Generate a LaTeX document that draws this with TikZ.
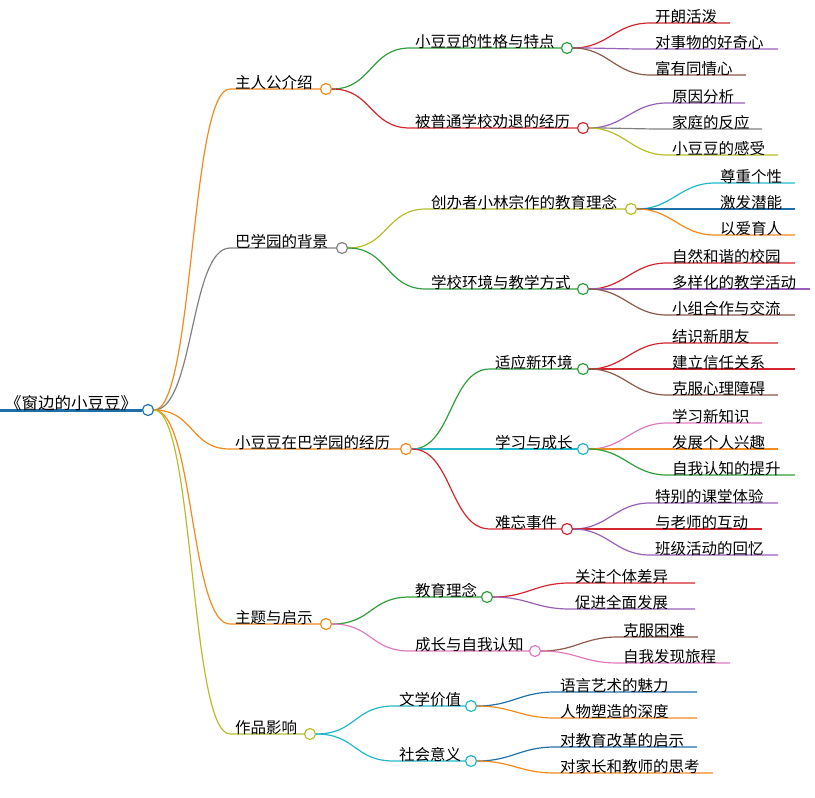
\documentclass[tikz,border=0pt]{standalone}
\usepackage{fontspec}
\newfontfamily\cjk{Noto Sans CJK SC}
\usetikzlibrary{calc}
\definecolor{cOr}{HTML}{F28A1E}
\definecolor{cGy}{HTML}{808080}
\definecolor{cYg}{HTML}{B5BD2A}
\definecolor{cGn}{HTML}{2E9E3A}
\definecolor{cRd}{HTML}{D4262E}
\definecolor{cPu}{HTML}{9A5FB8}
\definecolor{cBr}{HTML}{8C5A4A}
\definecolor{cCy}{HTML}{22B8CC}
\definecolor{cBl}{HTML}{1F6FA8}
\definecolor{cPk}{HTML}{E07AC0}
\tikzset{
	lbl/.style={font=\cjk\fontsize{15.5}{17}\selectfont,inner sep=1pt,anchor=south west},
	dot/.style={circle,fill=white,line width=1.2pt,inner sep=0pt,minimum size=11pt},
	wire/.style={line width=1.2pt},
}
% topic: name, parent, x0, x1, y, colour, text (ends with a dot)
\newcommand\topic[7]{%
	\coordinate (#1-s) at (#3,#5);
	\draw[wire,#6] (#2.east) .. controls +(40,0) and +(-40,0) .. (#1-s) -- (#4-5.5,#5);
	\node[dot,draw=#6] (#1) at (#4,#5) {};
	\node[lbl] (#1-t) at ($(#1-s)+(4,2)$) {#7};
}
% leaf: name, parent, x0, x1, y, colour, text
\newcommand\leaf[7]{%
	\coordinate (#1-s) at (#3,#5);
	\draw[wire,#6] (#2.east) .. controls +(35,0) and +(-35,0) .. (#1-s) -- (#4,#5);
	\node[lbl] (#1-t) at ($(#1-s)+(4,2)$) {#7};
}
\begin{document}
\begin{tikzpicture}[x=1pt,y=-1pt]
	\useasboundingbox (0,0) rectangle (815,798);
	% root
	\draw[cBl,line width=3pt] (0,410) -- (142,410);
	\node[dot,draw=cBl] (root) at (148,410) {};
	\node[lbl,font=\cjk\fontsize{16.5}{18}\selectfont] (root-t) at (4,412) {《窗边的小豆豆》};
	% main topics
	\topic{hero}{root}{230}{326}{89}{cOr}{主人公介绍}
	\topic{back}{root}{230}{342}{248}{cGy}{巴学园的背景}
	\topic{life}{root}{230}{406}{449}{cOr}{小豆豆在巴学园的经历}
	\topic{idea}{root}{230}{326}{624}{cOr}{主题与启示}
	\topic{echo}{root}{230}{310}{734}{cYg}{作品影响}
	% second level
	\topic{trait}{hero}{410}{567}{48}{cGn}{小豆豆的性格与特点}
	\topic{quit}{hero}{410}{583}{128}{cRd}{被普通学校劝退的经历}
	\topic{found}{back}{426}{631}{209}{cYg}{创办者小林宗作的教育理念}
	\topic{env}{back}{426}{583}{289}{cGn}{学校环境与教学方式}
	\topic{adapt}{life}{490}{583}{369}{cGn}{适应新环境}
	\topic{grow}{life}{490}{583}{449}{cCy}{学习与成长}
	\topic{event}{life}{490}{567}{529}{cRd}{难忘事件}
	\topic{edu}{idea}{410}{487}{597}{cGn}{教育理念}
	\topic{self}{idea}{410}{535}{651}{cPk}{成长与自我认知}
	\topic{lit}{echo}{394}{471}{706}{cCy}{文学价值}
	\topic{soc}{echo}{394}{471}{761}{cCy}{社会意义}
	% leaves
	\leaf{l1}{trait}{650}{730}{23}{cRd}{开朗活泼}
	\leaf{l2}{trait}{650}{778}{49}{cPu}{对事物的好奇心}
	\leaf{l3}{trait}{650}{746}{75}{cBr}{富有同情心}
	\leaf{l4}{quit}{667}{745}{103}{cPu}{原因分析}
	\leaf{l5}{quit}{667}{762}{129}{cGy}{家庭的反应}
	\leaf{l6}{quit}{667}{778}{155}{cYg}{小豆豆的感受}
	\leaf{l7}{found}{715}{795}{183}{cCy}{尊重个性}
	\leaf{l8}{found}{715}{795}{209}{cBl}{激发潜能}
	\leaf{l9}{found}{715}{795}{235}{cOr}{以爱育人}
	\leaf{l10}{env}{667}{795}{263}{cRd}{自然和谐的校园}
	\leaf{l11}{env}{667}{810}{289}{cPu}{多样化的教学活动}
	\leaf{l12}{env}{667}{795}{315}{cBr}{小组合作与交流}
	\leaf{l13}{adapt}{667}{778}{343}{cRd}{结识新朋友}
	\leaf{l14}{adapt}{667}{795}{369}{cRd}{建立信任关系}
	\leaf{l15}{adapt}{667}{778}{395}{cBr}{克服心理障碍}
	\leaf{l16}{grow}{667}{762}{423}{cPk}{学习新知识}
	\leaf{l17}{grow}{667}{778}{449}{cOr}{发展个人兴趣}
	\leaf{l18}{grow}{667}{795}{475}{cGn}{自我认知的提升}
	\leaf{l19}{event}{650}{778}{503}{cPu}{特别的课堂体验}
	\leaf{l20}{event}{650}{762}{529}{cRd}{与老师的互动}
	\leaf{l21}{event}{650}{778}{555}{cPu}{班级活动的回忆}
	\leaf{l22}{edu}{570}{695}{583}{cRd}{关注个体差异}
	\leaf{l23}{edu}{570}{695}{609}{cPu}{促进全面发展}
	\leaf{l24}{self}{618}{698}{637}{cBr}{克服困难}
	\leaf{l25}{self}{618}{730}{663}{cPk}{自我发现旅程}
	\leaf{l26}{lit}{555}{697}{692}{cBl}{语言艺术的魅力}
	\leaf{l27}{lit}{555}{697}{718}{cOr}{人物塑造的深度}
	\leaf{l28}{soc}{555}{697}{747}{cBl}{对教育改革的启示}
	\leaf{l29}{soc}{555}{713}{773}{cOr}{对家长和教师的思考}
\end{tikzpicture}
\end{document}
